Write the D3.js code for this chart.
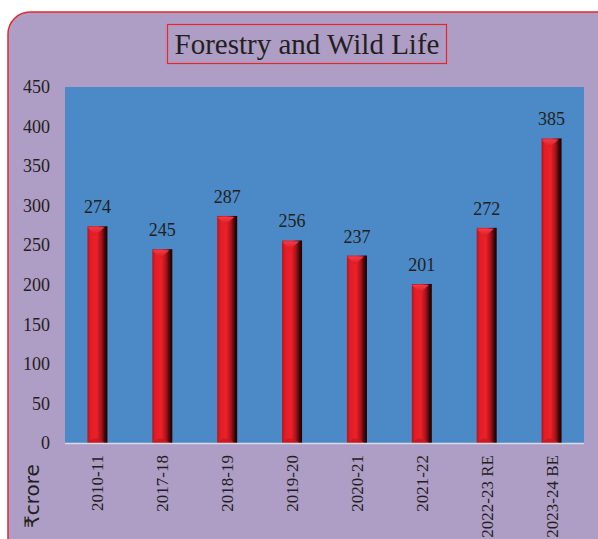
<!DOCTYPE html>
<head>
  <meta charset="utf-8">
  <script src="https://d3js.org/d3.v7.min.js"></script>
  <style>
    body { margin: 0; background: #fff; }
    svg text { font-family: 'Liberation Serif', 'DejaVu Serif', serif; fill: #231f20; }
  </style>
</head>
<body>
  <svg id="chart"></svg>
  <script>
    var width = 598;
    var height = 539;

    // data
    var years = ["2010-11", "2017-18", "2018-19", "2019-20", "2020-21", "2021-22", "2022-23 RE", "2023-24 BE"];
    var values = [274, 245, 287, 256, 237, 201, 272, 385];
    var yTicks = [0, 50, 100, 150, 200, 250, 300, 350, 400, 450];

    var plot = {left: 65, right: 584, top: 87, bottom: 443};
    var serif = "'Liberation Serif', 'DejaVu Serif', serif";

    var svg = d3.select("#chart")
      .attr("width", width)
      .attr("height", height);

    var defs = svg.append("defs");
    var grad = defs.append("linearGradient").attr("id", "barGrad");
    [[0, "#b3161c"], [0.15, "#e11c25"], [0.45, "#ee2029"], [0.7, "#a3131a"], [0.88, "#3a0607"], [1, "#150202"]]
      .forEach(function(s) {
        grad.append("stop").attr("offset", s[0]).attr("stop-color", s[1]);
      });
    var capGrad = defs.append("linearGradient").attr("id", "capGrad")
      .attr("x1", 0).attr("y1", 0).attr("x2", 0).attr("y2", 1);
    capGrad.append("stop").attr("offset", 0).attr("stop-color", "#f5404a");
    capGrad.append("stop").attr("offset", 1).attr("stop-color", "#d8161f");

    // background panel
    svg.append("rect")
      .attr("x", 8).attr("y", 12)
      .attr("width", 610).attr("height", 560)
      .attr("rx", 22)
      .attr("fill", "#ae9dc4")
      .attr("stroke", "#e8262e")
      .attr("stroke-width", 1.5);

    // title
    svg.append("rect")
      .attr("x", 167.5).attr("y", 24.5)
      .attr("width", 279).attr("height", 39)
      .attr("fill", "none")
      .attr("stroke", "#e8262e")
      .attr("stroke-width", 1.2);
    svg.append("text")
      .attr("x", 307).attr("y", 54)
      .attr("text-anchor", "middle")
      .attr("font-family", serif)
      .style("font-size", "29px")
      .text("Forestry and Wild Life");

    var x = d3.scaleBand()
      .domain(years)
      .range([plot.left, plot.right]);

    var y = d3.scaleLinear()
      .domain([0, 450])
      .range([plot.bottom, plot.top]);

    svg.append("rect")
      .attr("x", plot.left).attr("y", plot.top)
      .attr("width", plot.right - plot.left)
      .attr("height", plot.bottom - plot.top)
      .attr("fill", "#4b89c7");

    // y axis labels
    var yAxis = svg.append("g")
      .attr("transform", "translate(50,0)")
      .call(d3.axisLeft(y).tickValues(yTicks).tickSize(0).tickPadding(0));
    yAxis.attr("font-family", serif).attr("font-size", 18);
    yAxis.select(".domain").remove();
    yAxis.selectAll("text")
      .attr("fill", "#231f20");

    var barW = 20;
    var bars = svg.append("g").selectAll("g")
      .data(values)
      .enter().append("g");

    bars.append("rect")
      .attr("x", function(d, i) { return x(years[i]) + x.bandwidth() / 2 - barW / 2; })
      .attr("y", function(d) { return y(d); })
      .attr("width", barW)
      .attr("height", function(d) { return plot.bottom - y(d); })
      .attr("fill", "url(#barGrad)");

    // top cap highlight (triangle)
    bars.append("path")
      .attr("d", function(d, i) {
        var cx = x(years[i]) + x.bandwidth() / 2 - 2;
        var top = y(d);
        return "M" + (cx - barW / 2 + 2) + "," + (top + 1) +
          "L" + (cx + barW / 2 - 1) + "," + (top + 1) +
          "L" + cx + "," + (top + 9) + "Z";
      })
      .attr("fill", "url(#capGrad)")
      .attr("opacity", 0.9);

    // bottom rounded foot
    bars.append("path")
      .attr("d", function(d, i) {
        var cx = x(years[i]) + x.bandwidth() / 2 - 2;
        var b = plot.bottom;
        return "M" + (cx - 8) + "," + b + "Q" + cx + "," + (b - 9) + " " + (cx + 9) + "," + b + "Z";
      })
      .attr("fill", "#c41820")
      .attr("opacity", 0.8);

    // value labels
    bars.append("text")
      .attr("x", function(d, i) { return x(years[i]) + x.bandwidth() / 2; })
      .attr("y", function(d) { return y(d) - 13; })
      .attr("text-anchor", "middle")
      .attr("font-family", serif)
      .style("font-size", "18px")
      .text(function(d) { return d; });

    // baseline
    svg.append("line")
      .attr("x1", plot.left).attr("x2", plot.right)
      .attr("y1", plot.bottom + 0.5).attr("y2", plot.bottom + 0.5)
      .attr("stroke", "#d6dbe6")
      .attr("stroke-width", 1.5);

    // x labels, rotated
    svg.append("g").selectAll("text")
      .data(years)
      .enter().append("text")
      .attr("transform", function(d) {
        return "translate(" + (x(d) + x.bandwidth() / 2 + 6) + "," + 455 + ") rotate(-90)";
      })
      .attr("text-anchor", "end")
      .attr("font-family", serif)
      .style("font-size", "17px")
      .text(function(d) { return d; });

    // unit label
    svg.append("text")
      .attr("transform", "translate(39,528) rotate(-90)")
      .style("font-family", "'DejaVu Sans', sans-serif")
      .style("font-size", "20px")
      .text("₹crore");
  </script>
</body>
